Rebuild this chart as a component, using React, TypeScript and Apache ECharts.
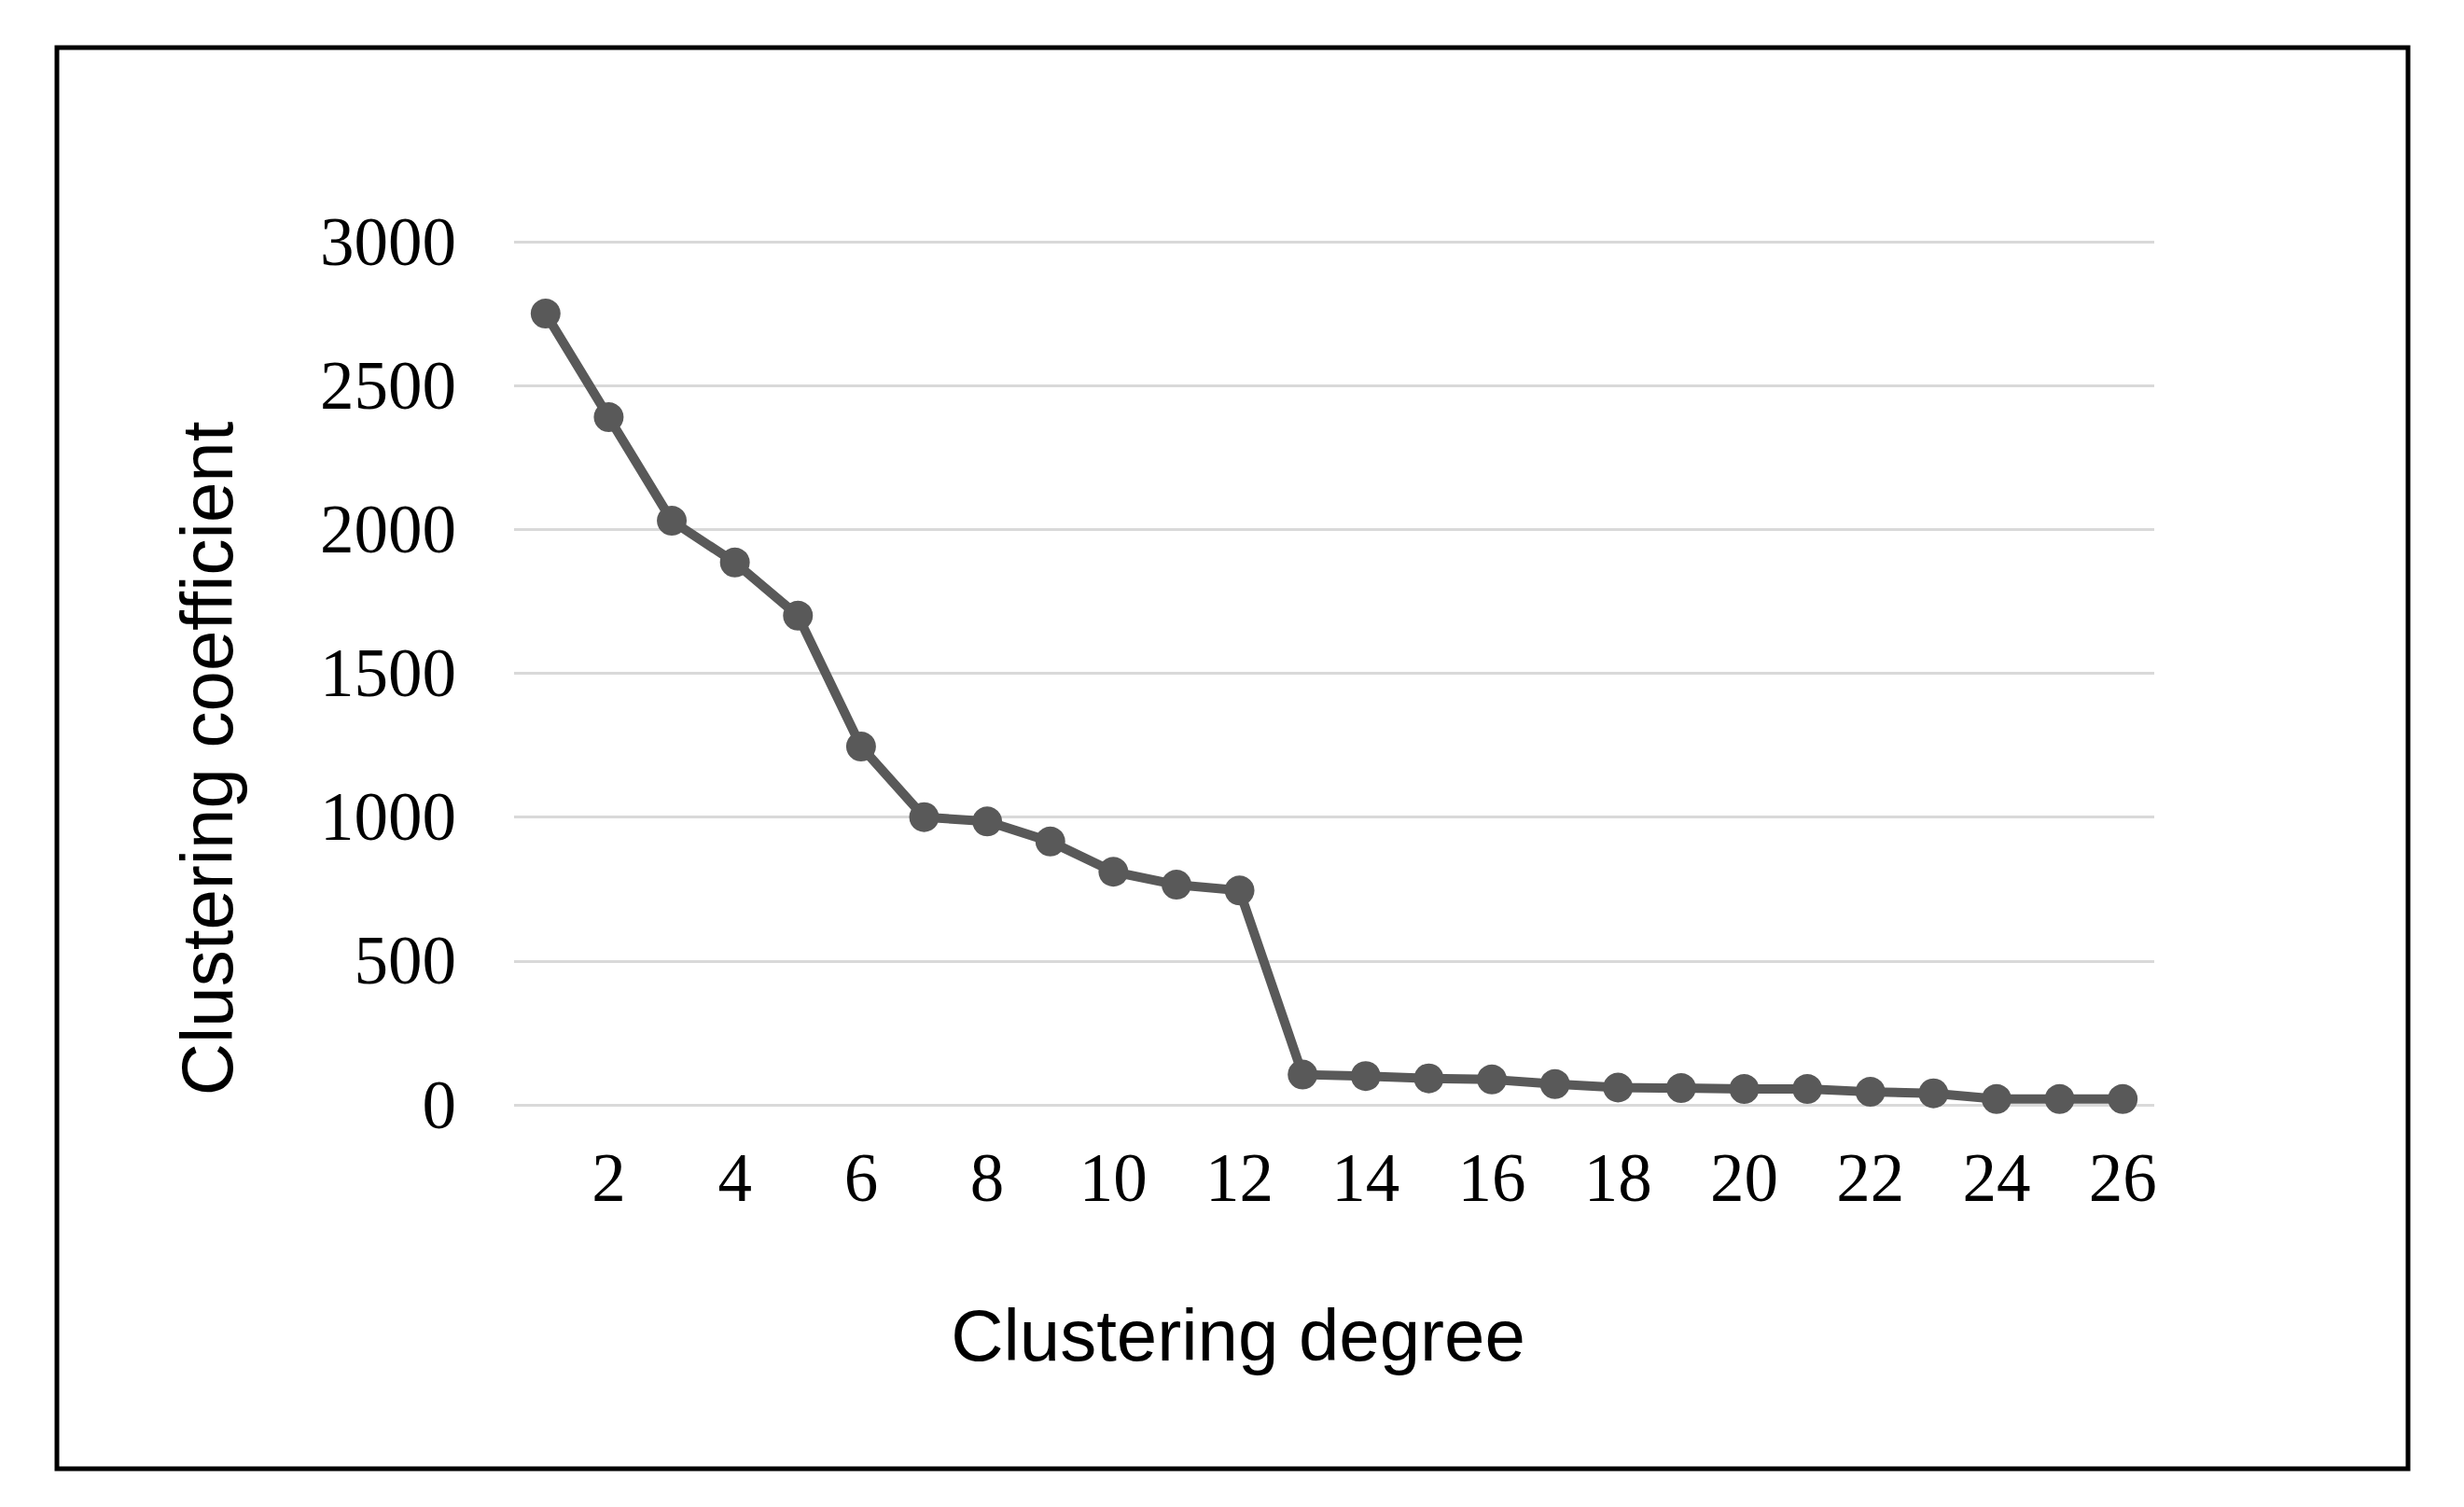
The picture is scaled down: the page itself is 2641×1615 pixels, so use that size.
import React, { useEffect, useRef } from "react";
import * as echarts from "echarts";

const degrees = Array.from({ length: 26 }, (_, i) => String(i + 1));
const coefficients = [
  2750, 2390, 2030, 1885, 1700, 1245, 1000, 985, 915, 810, 765, 745,
  105, 100, 92, 88, 72, 60, 58, 55, 55, 45, 40, 20, 20, 20,
];
const yMin = 0;
const yMax = 3000;
const yStep = 500;
const xTitle = "Clustering degree";
const yTitle = "Clustering coefficient";

export default function App() {
  const ref = useRef<HTMLDivElement>(null);
  useEffect(() => {
    if (!ref.current) return;
    const chart = echarts.init(ref.current, null, { renderer: "svg" });
    chart.setOption({
      animation: false,
      backgroundColor: "#ffffff",
      grid: { left: 551, right: 332, top: 259, bottom: 431, containLabel: false },
      xAxis: {
        type: "category",
        data: degrees,
        boundaryGap: true,
        axisLine: { show: false },
        axisTick: { show: false },
        splitLine: { show: false },
        axisLabel: {
          interval: (index: number) => index % 2 === 1,
          fontFamily: "Liberation Serif",
          fontSize: 73,
          color: "#000",
          margin: 42,
        },
      },
      yAxis: {
        type: "value",
        min: yMin,
        max: yMax,
        interval: yStep,
        axisLine: { show: false },
        axisTick: { show: false },
        splitLine: { show: true, lineStyle: { color: "#d9d9d9", width: 3 } },
        axisLabel: {
          formatter: (v: number) => String(v),
          fontFamily: "Liberation Serif",
          fontSize: 73,
          color: "#000",
          margin: 62,
        },
      },
      series: [
        {
          type: "line",
          data: coefficients,
          symbol: "circle",
          symbolSize: 32,
          lineStyle: { color: "#595959", width: 10 },
          itemStyle: { color: "#595959" },
        },
      ],
      graphic: [
        {
          type: "rect",
          shape: { x: 61, y: 51, width: 2520, height: 1523 },
          style: { fill: "none", stroke: "#000", lineWidth: 5 },
          silent: true,
        },
        {
          type: "text",
          x: 1327,
          y: 1431,
          style: {
            text: xTitle,
            fontFamily: "Liberation Sans",
            fontSize: 78,
            fill: "#000",
            textAlign: "center",
            textVerticalAlign: "middle",
          },
        },
        {
          type: "text",
          x: 222,
          y: 813,
          rotation: Math.PI / 2,
          style: {
            text: yTitle,
            fontFamily: "Liberation Sans",
            fontSize: 78,
            fill: "#000",
            textAlign: "center",
            textVerticalAlign: "middle",
          },
        },
      ],
    });
    return () => chart.dispose();
  }, []);
  return (
    <div
      ref={ref}
      style={{ position: "absolute", left: 0, top: 0, width: 2641, height: 1615 }}
    />
  );
}
